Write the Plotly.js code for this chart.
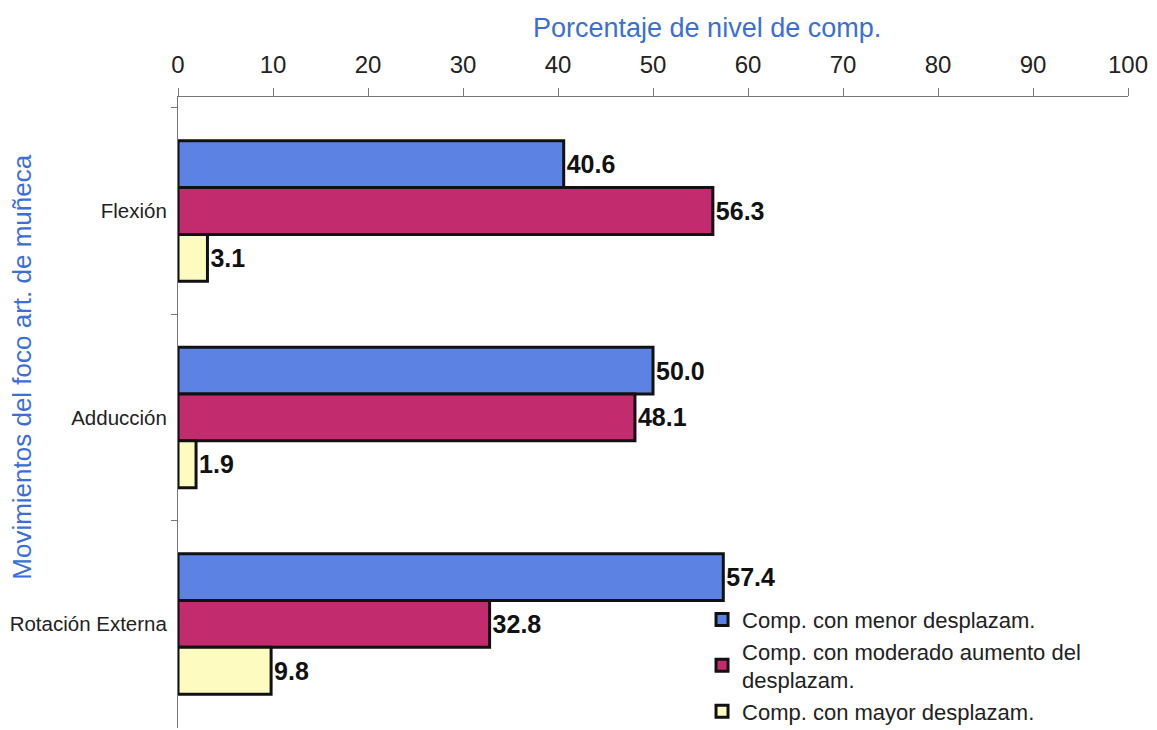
<!DOCTYPE html>
<html>
<head>
<meta charset="utf-8">
<script src="https://cdn.plot.ly/plotly-3.0.1.min.js"></script>
<style>html,body{margin:0;padding:0;background:#fff;}#chart{width:1157px;height:730px;}</style>
</head>
<body>
<div id="chart"></div>
<script>
// Movements of the wrist joint and share of each compensation level
const movimientos = ['Flexión', 'Adducción', 'Rotación Externa'];
const menorDesplazam = [40.6, 50.0, 57.4];
const moderadoDesplazam = [56.3, 48.1, 32.8];
const mayorDesplazam = [3.1, 1.9, 9.8];
const nombresSeries = [
  'Comp. con menor desplazam.',
  'Comp. con moderado aumento del<br>desplazam.',
  'Comp. con mayor desplazam.'
];
const xTicks = [0, 10, 20, 30, 40, 50, 60, 70, 80, 90, 100];
const tituloX = 'Porcentaje de nivel de comp.';
const tituloY = 'Movimientos del foco art. de muñeca';

const FONT = 'Arial, Liberation Sans, sans-serif';
const AZUL_TITULO = '#3b6fd6';
const colores = ['#5c83e3', '#c22b6d', '#fdfbbf'];
const series = [menorDesplazam, moderadoDesplazam, mayorDesplazam];

const traces = series.map((vals, i) => ({
  type: 'bar',
  orientation: 'h',
  name: nombresSeries[i],
  legendgroup: 'g' + i,
  y: movimientos,
  x: vals,
  text: vals.map(v => v.toFixed(1)),
  textposition: 'outside',
  cliponaxis: false,
  textfont: {family: FONT, size: 25, color: '#111'},
  texttemplate: '<b>%{text}</b>',
  marker: {color: colores[i], line: {color: '#111', width: 3}}
}));

const layout = {
  width: 1157,
  height: 730,
  margin: {l: 178, r: 29, t: 97, b: 2, autoexpand: false},
  paper_bgcolor: '#fff',
  plot_bgcolor: '#fff',
  barmode: 'group',
  bargap: 0.32,
  bargroupgap: 0,
  showlegend: true,
  legend: {
    x: 0.5516, y: 0.205, xanchor: 'left', yanchor: 'top',
    bgcolor: 'rgba(0,0,0,0)',
    font: {family: FONT, size: 22, color: '#222'},
    tracegroupgap: 0,
    itemwidth: 30
  },
  xaxis: {
    side: 'top',
    range: [0, 100],
    tickvals: xTicks,
    ticktext: xTicks.map(String),
    ticks: 'outside',
    ticklen: 8,
    tickcolor: '#777',
    ticklabelstandoff: 5,
    showline: true,
    linecolor: '#777',
    linewidth: 1,
    showgrid: false,
    zeroline: false,
    tickfont: {family: FONT, size: 24, color: '#222'}
  },
  yaxis: {
    type: 'category',
    range: [2.504, -0.552],
    tickson: 'boundaries',
    ticks: 'outside',
    ticklen: 6,
    tickcolor: '#777',
    ticklabelstandoff: 6,
    showline: true,
    linecolor: '#777',
    linewidth: 1,
    showgrid: false,
    zeroline: false,
    tickfont: {family: FONT, size: 20.5, color: '#222'}
  },
  annotations: [
    {
      // horizontal axis title, above the tick labels
      text: tituloX,
      xref: 'paper', yref: 'paper',
      x: 0.557, y: 1.109,
      xanchor: 'center', yanchor: 'middle',
      showarrow: false,
      font: {family: FONT, size: 27, color: AZUL_TITULO}
    },
    {
      // vertical axis title
      text: tituloY,
      xref: 'paper', yref: 'paper',
      x: -0.1642, y: 0.571,
      xanchor: 'center', yanchor: 'middle',
      textangle: -90,
      showarrow: false,
      font: {family: FONT, size: 26, color: AZUL_TITULO}
    }
  ]
};

Plotly.newPlot('chart', traces, layout, {displayModeBar: false, staticPlot: true});
</script>
</body>
</html>
